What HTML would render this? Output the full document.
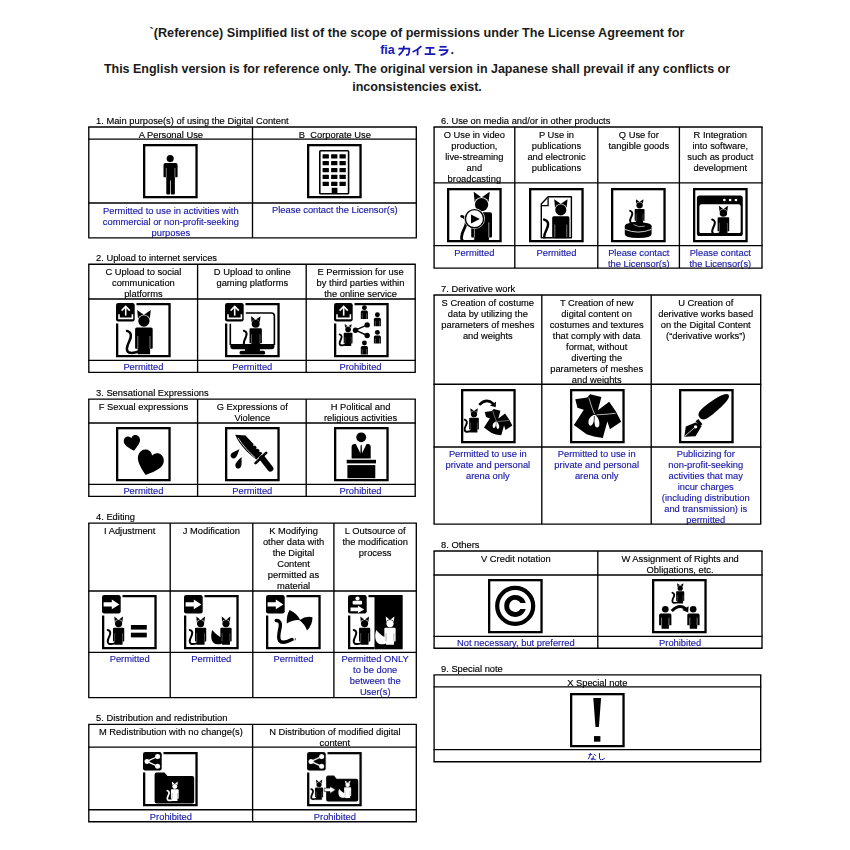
<!DOCTYPE html>
<html><head><meta charset="utf-8"><style>
html,body{margin:0;padding:0;background:#fff;width:850px;height:850px;overflow:hidden;position:relative}
.t{position:absolute;will-change:transform;-webkit-text-stroke:0.15px currentColor;font-family:"Liberation Sans", sans-serif;font-size:9.35px;line-height:11px;white-space:nowrap}
.h{position:absolute;left:0;width:834px;text-align:center;font-family:"Liberation Sans", sans-serif;font-weight:bold;font-size:12.55px;line-height:18px;color:#1a1a1a;white-space:nowrap}
.ic{position:absolute;overflow:visible}
.ov{position:absolute;left:0;top:0}
</style></head><body>
<svg width="0" height="0" style="position:absolute"><defs>
<g id="catB">
 <path d="M-6.7,-10.9 L-0.2,-6.2 L-5.9,-2.2 Z M6.9,-10.9 L0.2,-6.2 L5.9,-2.2 Z" fill="#000"/>
 <circle r="6.3" fill="#fff"/>
 <circle r="5.65" fill="#000"/>
 <path d="M-8.8,8 Q-8.8,6.4 -7.2,6.4 H7.2 Q8.8,6.4 8.8,8 V27 Q8.8,27.8 8,27.8 H6.2 V33.2 H-6.2 V27.8 H-8 Q-8.8,27.8 -8.8,27 Z" fill="#000"/>
 <path d="M-6.1,15 V27.8 M6.1,15 V27.8" stroke="#fff" stroke-width="0.5"/>
</g>
<path id="tail" d="M-16.9,9.9 C-12.5,11 -12,15 -14.5,20 C-17.5,26 -18,30 -15,31.5 C-12,32.5 -8,31.5 -5,30.5" fill="none" stroke-linecap="round"/>
<path id="fox" d="M-21.5,9.9 C-19,13 -15,17 -10,20 L-6.2,22 V31 C-10,33 -16,33 -19.5,30 C-23.5,26 -24,18 -21.5,9.9 Z"/>
<g id="catW">
 <path d="M-6.7,-10.9 L-0.2,-6.2 L-5.9,-2.2 Z M6.9,-10.9 L0.2,-6.2 L5.9,-2.2 Z" fill="#fff"/>
 <circle r="6.3" fill="#000"/>
 <circle r="5.65" fill="#fff"/>
 <path d="M-8.8,8 Q-8.8,6.4 -7.2,6.4 H7.2 Q8.8,6.4 8.8,8 V27 Q8.8,27.8 8,27.8 H6.2 V33.2 H-6.2 V27.8 H-8 Q-8.8,27.8 -8.8,27 Z" fill="#fff"/>
 <path d="M-6.1,15 V27.8 M6.1,15 V27.8" stroke="#000" stroke-width="0.5"/>
</g>
</defs></svg>
<div class="h" style="font-size:12.64px;top:23.90px">`(Reference) Simplified list of the scope of permissions under The License Agreement for</div>
<div class="h" style="left:380.2px;width:auto;text-align:left;top:40.60px;color:#1a1ab8">fia</div><div class="h" style="left:450.6px;width:auto;text-align:left;top:40.60px">.</div>
<div class="h" style="font-size:12.48px;top:59.90px">This English version is for reference only. The original version in Japanese shall prevail if any conflicts or</div>
<div class="h" style="top:77.90px">inconsistencies exist.</div>
<div class="t" style="left:95.80px;width:400.00px;top:115.76px;color:#000;text-align:left">1. Main purpose(s) of using the Digital Content</div><div class="t" style="left:88.80px;width:163.70px;top:129.66px;color:#000;text-align:center">A Personal Use</div><div class="t" style="left:88.80px;width:163.70px;top:205.86px;color:#1a1aa8;text-align:center">Permitted to use in activities with<br>commercial or non-profit-seeking<br>purposes</div><div class="t" style="left:252.50px;width:163.80px;top:129.66px;color:#000;text-align:center">B  Corporate Use</div><div class="t" style="left:252.50px;width:163.80px;top:205.06px;color:#1a1aa8;text-align:center">Please contact the Licensor(s)</div><div class="t" style="left:95.80px;width:400.00px;top:252.96px;color:#000;text-align:left">2. Upload to internet services</div><div class="t" style="left:88.80px;width:108.80px;top:266.86px;color:#000;text-align:center">C Upload to social<br>communication<br>platforms</div><div class="t" style="left:88.80px;width:108.80px;top:362.46px;color:#1a1aa8;text-align:center">Permitted</div><div class="t" style="left:197.60px;width:108.60px;top:266.86px;color:#000;text-align:center">D Upload to online<br>gaming platforms</div><div class="t" style="left:197.60px;width:108.60px;top:362.46px;color:#1a1aa8;text-align:center">Permitted</div><div class="t" style="left:306.20px;width:109.00px;top:266.86px;color:#000;text-align:center">E Permission for use<br>by third parties within<br>the online service</div><div class="t" style="left:306.20px;width:109.00px;top:362.46px;color:#1a1aa8;text-align:center">Prohibited</div><div class="t" style="left:95.80px;width:400.00px;top:387.86px;color:#000;text-align:left">3. Sensational Expressions</div><div class="t" style="left:88.80px;width:108.80px;top:401.76px;color:#000;text-align:center">F Sexual expressions</div><div class="t" style="left:88.80px;width:108.80px;top:486.46px;color:#1a1aa8;text-align:center">Permitted</div><div class="t" style="left:197.60px;width:108.60px;top:401.76px;color:#000;text-align:center">G Expressions of<br>Violence</div><div class="t" style="left:197.60px;width:108.60px;top:486.46px;color:#1a1aa8;text-align:center">Permitted</div><div class="t" style="left:306.20px;width:109.00px;top:401.76px;color:#000;text-align:center">H Political and<br>religious activities</div><div class="t" style="left:306.20px;width:109.00px;top:486.46px;color:#1a1aa8;text-align:center">Prohibited</div><div class="t" style="left:95.80px;width:400.00px;top:511.86px;color:#000;text-align:left">4. Editing</div><div class="t" style="left:88.80px;width:81.40px;top:525.76px;color:#000;text-align:center">I Adjustment</div><div class="t" style="left:88.80px;width:81.40px;top:654.46px;color:#1a1aa8;text-align:center">Permitted</div><div class="t" style="left:170.20px;width:82.60px;top:525.76px;color:#000;text-align:center">J Modification</div><div class="t" style="left:170.20px;width:82.60px;top:654.46px;color:#1a1aa8;text-align:center">Permitted</div><div class="t" style="left:252.80px;width:81.10px;top:525.76px;color:#000;text-align:center">K Modifying<br>other data with<br>the Digital<br>Content<br>permitted as<br>material</div><div class="t" style="left:252.80px;width:81.10px;top:654.46px;color:#1a1aa8;text-align:center">Permitted</div><div class="t" style="left:333.90px;width:82.40px;top:525.76px;color:#000;text-align:center">L Outsource of<br>the modification<br>process</div><div class="t" style="left:333.90px;width:82.40px;top:654.46px;color:#1a1aa8;text-align:center">Permitted ONLY<br>to be done<br>between the<br>User(s)</div><div class="t" style="left:95.80px;width:400.00px;top:713.06px;color:#000;text-align:left">5. Distribution and redistribution</div><div class="t" style="left:88.80px;width:163.80px;top:726.96px;color:#000;text-align:center">M Redistribution with no change(s)</div><div class="t" style="left:88.80px;width:163.80px;top:811.76px;color:#1a1aa8;text-align:center">Prohibited</div><div class="t" style="left:252.60px;width:163.70px;top:726.96px;color:#000;text-align:center">N Distribution of modified digital<br>content</div><div class="t" style="left:252.60px;width:163.70px;top:811.76px;color:#1a1aa8;text-align:center">Prohibited</div><div class="t" style="left:441.00px;width:400.00px;top:115.76px;color:#000;text-align:left">6. Use on media and/or in other products</div><div class="t" style="left:434.10px;width:80.70px;top:129.66px;color:#000;text-align:center">O Use in video<br>production,<br>live-streaming<br>and<br>broadcasting</div><div class="t" style="left:434.10px;width:80.70px;top:247.66px;color:#1a1aa8;text-align:center">Permitted</div><div class="t" style="left:514.80px;width:83.00px;top:129.66px;color:#000;text-align:center">P Use in<br>publications<br>and electronic<br>publications</div><div class="t" style="left:514.80px;width:83.00px;top:247.66px;color:#1a1aa8;text-align:center">Permitted</div><div class="t" style="left:597.80px;width:81.60px;top:129.66px;color:#000;text-align:center">Q Use for<br>tangible goods</div><div class="t" style="left:597.80px;width:81.60px;top:247.66px;color:#1a1aa8;text-align:center">Please contact<br>the Licensor(s)</div><div class="t" style="left:679.40px;width:82.60px;top:129.66px;color:#000;text-align:center">R Integration<br>into software,<br>such as product<br>development</div><div class="t" style="left:679.40px;width:82.60px;top:247.66px;color:#1a1aa8;text-align:center">Please contact<br>the Licensor(s)</div><div class="t" style="left:441.00px;width:400.00px;top:283.76px;color:#000;text-align:left">7. Derivative work</div><div class="t" style="left:434.10px;width:107.70px;top:297.66px;color:#000;text-align:center">S Creation of costume<br>data by utilizing the<br>parameters of meshes<br>and weights</div><div class="t" style="left:434.10px;width:107.70px;top:449.06px;color:#1a1aa8;text-align:center">Permitted to use in<br>private and personal<br>arena only</div><div class="t" style="left:541.80px;width:109.40px;top:297.66px;color:#000;text-align:center">T Creation of new<br>digital content on<br>costumes and textures<br>that comply with data<br>format, without<br>diverting the<br>parameters of meshes<br>and weights</div><div class="t" style="left:541.80px;width:109.40px;top:449.06px;color:#1a1aa8;text-align:center">Permitted to use in<br>private and personal<br>arena only</div><div class="t" style="left:651.20px;width:109.50px;top:297.66px;color:#000;text-align:center">U Creation of<br>derivative works based<br>on the Digital Content<br>(“derivative works”)</div><div class="t" style="left:651.20px;width:109.50px;top:449.06px;color:#1a1aa8;text-align:center">Publicizing for<br>non-profit-seeking<br>activities that may<br>incur charges<br>(including distribution<br>and transmission) is<br>permitted</div><div class="t" style="left:441.00px;width:400.00px;top:539.76px;color:#000;text-align:left">8. Others</div><div class="t" style="left:434.10px;width:163.70px;top:553.66px;color:#000;text-align:center">V Credit notation</div><div class="t" style="left:434.10px;width:163.70px;top:638.46px;color:#1a1aa8;text-align:center">Not necessary, but preferred</div><div class="t" style="left:597.80px;width:164.20px;top:553.66px;color:#000;text-align:center">W Assignment of Rights and<br>Obligations, etc.</div><div class="t" style="left:597.80px;width:164.20px;top:638.46px;color:#1a1aa8;text-align:center">Prohibited</div><div class="t" style="left:441.00px;width:400.00px;top:663.66px;color:#000;text-align:left">9. Special note</div><div class="t" style="left:434.10px;width:326.60px;top:677.56px;color:#000;text-align:center">X Special note</div><svg class="ic" style="left:143.20px;top:144.20px" width="54.7" height="54.3" viewBox="0 0 54.7 54.3"><rect x="1.15" y="1.15" width="52.4" height="52" fill="none" stroke="#000" stroke-width="2.3"/><g fill="#000"><circle cx="27.2" cy="14.6" r="3.55"/><path d="M20.5,21 Q20.5,19.1 22.4,19.1 H32.7 Q34.6,19.1 34.6,21 V32.4 Q34.6,33.3 33.7,33.3 H31.9 V49.6 Q31.9,50.6 30.9,50.6 H28.6 Q27.9,50.6 27.9,49.6 V36.6 H27.2 V49.6 Q27.2,50.6 26.2,50.6 H24.3 Q23.3,50.6 23.3,49.6 V33.3 H21.4 Q20.5,33.3 20.5,32.4 Z"/></g><path d="M23.3,24 V33.3 M31.9,24 V33.3" stroke="#fff" stroke-width="0.5"/></svg><svg class="ic" style="left:307.20px;top:144.20px" width="54.7" height="54.3" viewBox="0 0 54.7 54.3"><rect x="1.15" y="1.15" width="52.4" height="52" fill="none" stroke="#000" stroke-width="2.3"/><rect x="12.8" y="6.8" width="28.8" height="42.9" rx="0.8" fill="none" stroke="#000" stroke-width="1.6"/><g fill="#000"><rect x="15.6" y="10.2" width="6.3" height="4.2" rx="0.5"/><rect x="24.1" y="10.2" width="6.3" height="4.2" rx="0.5"/><rect x="32.5" y="10.2" width="6.3" height="4.2" rx="0.5"/><rect x="15.6" y="17.1" width="6.3" height="4.2" rx="0.5"/><rect x="24.1" y="17.1" width="6.3" height="4.2" rx="0.5"/><rect x="32.5" y="17.1" width="6.3" height="4.2" rx="0.5"/><rect x="15.6" y="24.0" width="6.3" height="4.2" rx="0.5"/><rect x="24.1" y="24.0" width="6.3" height="4.2" rx="0.5"/><rect x="32.5" y="24.0" width="6.3" height="4.2" rx="0.5"/><rect x="15.6" y="30.8" width="6.3" height="4.2" rx="0.5"/><rect x="24.1" y="30.8" width="6.3" height="4.2" rx="0.5"/><rect x="32.5" y="30.8" width="6.3" height="4.2" rx="0.5"/><rect x="15.6" y="37.8" width="6.3" height="4.2" rx="0.5"/><rect x="24.1" y="37.8" width="6.3" height="4.2" rx="0.5"/><rect x="32.5" y="37.8" width="6.3" height="4.2" rx="0.5"/><rect x="24.7" y="43.8" width="5.7" height="6.2"/></g></svg><svg class="ic" style="left:116.20px;top:303.20px" width="54.7" height="54.3" viewBox="0 0 54.7 54.3"><path d="M20.5,1.15 H53.55 V53.15 H1.15 V20.5" fill="none" stroke="#000" stroke-width="2.3"/><rect x="0" y="0" width="18.7" height="18.5" rx="2.2" fill="#000"/><g stroke="#fff" stroke-width="1.6" fill="none"><path d="M9.7,3.6 V12.6"/><path d="M5.6,7.6 L9.7,3.4 L13.8,7.6"/><path d="M3,11.2 V15.4 H16.4 V11.2"/></g><g transform="translate(27.9,18) scale(1.0)"><use href="#tail" stroke="#000" stroke-width="2.50"/><use href="#catB"/></g></svg><svg class="ic" style="left:225.20px;top:303.20px" width="54.7" height="54.3" viewBox="0 0 54.7 54.3"><path d="M20.5,1.15 H53.55 V53.15 H1.15 V20.5" fill="none" stroke="#000" stroke-width="2.3"/><rect x="0" y="0" width="18.7" height="18.5" rx="2.2" fill="#000"/><g stroke="#fff" stroke-width="1.6" fill="none"><path d="M9.7,3.6 V12.6"/><path d="M5.6,7.6 L9.7,3.4 L13.8,7.6"/><path d="M3,11.2 V15.4 H16.4 V11.2"/></g><path d="M20.8,10 H46.4 Q49.4,10 49.4,13 V42 M5.3,20.8 V42" fill="none" stroke="#000" stroke-width="1.6"/><path d="M5.3,41 H49.4 V43.4 Q49.4,46.2 46.6,46.2 H8.1 Q5.3,46.2 5.3,43.4 Z" fill="#000"/><rect x="20.1" y="45" width="14.8" height="3.5" fill="#000"/><rect x="14.5" y="47.8" width="25.7" height="3.7" rx="1.85" fill="#000"/><g transform="translate(30.7,20.8) scale(0.7)"><use href="#tail" stroke="#000" stroke-width="3.01"/><use href="#catB"/></g></svg><svg class="ic" style="left:334.20px;top:303.20px" width="54.7" height="54.3" viewBox="0 0 54.7 54.3"><path d="M20.5,1.15 H53.55 V53.15 H1.15 V20.5" fill="none" stroke="#000" stroke-width="2.3"/><rect x="0" y="0" width="18.7" height="18.5" rx="2.2" fill="#000"/><g stroke="#fff" stroke-width="1.6" fill="none"><path d="M9.7,3.6 V12.6"/><path d="M5.6,7.6 L9.7,3.4 L13.8,7.6"/><path d="M3,11.2 V15.4 H16.4 V11.2"/></g><g fill="#000"><circle cx="30.4" cy="4.7" r="2.45"/><path d="M26.8,8.9 Q26.8,7.4 28.3,7.4 H32.4 Q33.9,7.4 33.9,8.9 V15.9 H32.48 V15.9 H28.22 V15.9 H26.8 Z"/><path d="M28.22,10.375 V15.9 M32.48,10.375 V15.9" stroke="#fff" stroke-width="0.3"/><circle cx="43.4" cy="11.7" r="2.45"/><path d="M39.9,16.3 Q39.9,14.8 41.4,14.8 H45.4 Q46.9,14.8 46.9,16.3 V23.3 H45.5 V23.3 H41.3 V23.3 H39.9 Z"/><path d="M41.3,17.775 V23.3 M45.5,17.775 V23.3" stroke="#fff" stroke-width="0.3"/><circle cx="43.4" cy="29.4" r="2.45"/><path d="M39.9,34.0 Q39.9,32.5 41.4,32.5 H45.4 Q46.9,32.5 46.9,34.0 V40.6 H45.5 V40.6 H41.3 V40.6 H39.9 Z"/><path d="M41.3,35.335 V40.6 M45.5,35.335 V40.6" stroke="#fff" stroke-width="0.3"/><circle cx="30.4" cy="40.0" r="2.45"/><path d="M26.8,44.5 Q26.8,43.0 28.3,43.0 H32.4 Q33.9,43.0 33.9,44.5 V51.5 H32.48 V51.5 H28.22 V51.5 H26.8 Z"/><path d="M28.22,45.975 V51.5 M32.48,45.975 V51.5" stroke="#fff" stroke-width="0.3"/><circle cx="21.5" cy="27.2" r="2.7"/><circle cx="33.2" cy="21.9" r="2.7"/><circle cx="33.2" cy="32.5" r="2.7"/></g><path d="M21.5,27.2 L33.2,21.9 M21.5,27.2 L33.2,32.5" stroke="#000" stroke-width="1.4"/><g transform="translate(14.1,26.5) scale(0.5)"><use href="#tail" stroke="#000" stroke-width="3.70"/><use href="#catB"/></g></svg><svg class="ic" style="left:116.10px;top:427.20px" width="54.7" height="54.3" viewBox="0 0 54.7 54.3"><rect x="1.15" y="1.15" width="52.4" height="52" fill="none" stroke="#000" stroke-width="2.3"/><g fill="#000"><path transform="translate(16.6,16.8) rotate(-12) scale(1.95)" d="M0,3.6 C-1.5,2.4 -4.2,0.3 -4.2,-1.6 C-4.2,-3.2 -3.1,-4.2 -1.9,-4.2 C-1,-4.2 -0.3,-3.6 0,-2.9 C0.3,-3.6 1,-4.2 1.9,-4.2 C3.1,-4.2 4.2,-3.2 4.2,-1.6 C4.2,0.3 1.5,2.4 0,3.6 Z"/><path transform="translate(33.2,37.3) rotate(18) scale(3.15)" d="M0,3.6 C-1.5,2.4 -4.2,0.3 -4.2,-1.6 C-4.2,-3.2 -3.1,-4.2 -1.9,-4.2 C-1,-4.2 -0.3,-3.6 0,-2.9 C0.3,-3.6 1,-4.2 1.9,-4.2 C3.1,-4.2 4.2,-3.2 4.2,-1.6 C4.2,0.3 1.5,2.4 0,3.6 Z"/></g></svg><svg class="ic" style="left:225.10px;top:427.20px" width="54.7" height="54.3" viewBox="0 0 54.7 54.3"><rect x="1.15" y="1.15" width="52.4" height="52" fill="none" stroke="#000" stroke-width="2.3"/><g fill="#000"><path d="M10.2,7.8 L20.5,8.5 L28.5,17 L28.3,18.9 L30.1,18.6 L31.6,20.3 L31.3,22.1 L33.1,21.8 L34.6,23.4 L34.3,25.1 L36.1,24.9 L37.4,26.2 L31.5,32.6 C24,27 15,19 10.2,7.8 Z"/><path d="M14.5,21.9 C12.5,23.2 10,24.3 7.2,25.8 C4.5,27.5 5.5,31.8 8.8,31.5 C11,31.2 12,29 12.8,26.8 Z"/><path d="M16.6,30 C14.5,32 12.2,34 10.8,36.5 C9.3,39.5 11.8,42.5 14.5,41.3 C16.5,40.3 16.5,38 16.6,35.5 Z"/></g><path d="M30.6,36.2 L41.1,25.9" stroke="#000" stroke-width="2.6" stroke-linecap="round"/><path d="M37.2,31.2 L45.4,41.6" stroke="#000" stroke-width="6" stroke-linecap="round"/><path d="M13,10.8 C18,19 24,25 30.3,30.8" stroke="#fff" stroke-width="0.8" fill="none"/></svg><svg class="ic" style="left:334.10px;top:427.20px" width="54.7" height="54.3" viewBox="0 0 54.7 54.3"><rect x="1.15" y="1.15" width="52.4" height="52" fill="none" stroke="#000" stroke-width="2.3"/><g fill="#000"><circle cx="27.2" cy="10.3" r="4.9"/><path d="M17.6,31.4 V19.8 Q17.6,16.9 20.6,16.9 H21.8 L26.4,26.2 L26.6,18.8 L27.2,17.6 L27.8,18.8 L28,26.2 L32.6,16.9 H33.7 Q36.7,16.9 36.7,19.8 V31.4 Z"/><rect x="12.7" y="32.8" width="29.3" height="3.6"/><rect x="13.4" y="38.1" width="27.9" height="13.1"/></g></svg><svg class="ic" style="left:102.20px;top:595.20px" width="54.7" height="54.3" viewBox="0 0 54.7 54.3"><path d="M20.5,1.15 H53.55 V53.15 H1.15 V20.5" fill="none" stroke="#000" stroke-width="2.3"/><rect x="0" y="0" width="18.7" height="18.5" rx="2.2" fill="#000"/><path d="M1.6,7.3 H9.8 V4.5 L17.4,9.4 L9.8,14.3 V11.6 H1.6 Z" fill="#fff"/><g transform="translate(16.6,28.6) scale(0.64)"><use href="#tail" stroke="#000" stroke-width="3.17"/><use href="#catB"/></g><g fill="#000"><rect x="28.9" y="30" width="15.9" height="4.6"/><rect x="28.9" y="37.7" width="15.9" height="4.7"/></g></svg><svg class="ic" style="left:184.20px;top:595.20px" width="54.7" height="54.3" viewBox="0 0 54.7 54.3"><path d="M20.5,1.15 H53.55 V53.15 H1.15 V20.5" fill="none" stroke="#000" stroke-width="2.3"/><rect x="0" y="0" width="18.7" height="18.5" rx="2.2" fill="#000"/><path d="M1.6,7.3 H9.8 V4.5 L17.4,9.4 L9.8,14.3 V11.6 H1.6 Z" fill="#fff"/><g transform="translate(16.6,28.6) scale(0.64)"><use href="#tail" stroke="#000" stroke-width="3.17"/><use href="#catB"/></g><g transform="translate(42,28.6) scale(0.64)"><use href="#fox" fill="#000"/><use href="#catB"/></g></svg><svg class="ic" style="left:266.20px;top:595.20px" width="54.7" height="54.3" viewBox="0 0 54.7 54.3"><path d="M20.5,1.15 H53.55 V53.15 H1.15 V20.5" fill="none" stroke="#000" stroke-width="2.3"/><rect x="0" y="0" width="18.7" height="18.5" rx="2.2" fill="#000"/><path d="M1.6,7.3 H9.8 V4.5 L17.4,9.4 L9.8,14.3 V11.6 H1.6 Z" fill="#fff"/><path d="M20.8,28.6 Q20.4,20 23.6,15.0 Q31.5,18.5 34.2,25.2 A20,20 0 0,0 20.8,28.6 Z M33.4,25.2 Q40,20.6 46.5,22.2 Q46.5,30 41,35.6 A20,20 0 0,0 33.4,25.2 Z" fill="#000"/><path d="M10.2,25.5 C13.5,25.5 15,27.5 14.2,32 C13.5,36 11.5,42 13.5,45.5 C15.5,48.5 21,47 25.8,44.6" fill="none" stroke="#000" stroke-width="3.4" stroke-linecap="round"/><path d="M27.7,43.5 V45.8 M29.4,43 V45.3" stroke="#000" stroke-width="0.6"/></svg><svg class="ic" style="left:348.20px;top:595.20px" width="54.7" height="54.3" viewBox="0 0 54.7 54.3"><path d="M20.5,1.15 H27 M26.5,53.15 H1.15 V20.5" fill="none" stroke="#000" stroke-width="2.3"/><rect x="26.5" y="0" width="28.2" height="54.3" fill="#000"/><rect x="0" y="0" width="18.7" height="18.5" rx="2.2" fill="#000"/><g fill="#fff"><circle cx="9.5" cy="3.5" r="2.1"/><rect x="4.6" y="5.8" width="9.5" height="3.8" rx="1"/><path d="M2.5,12.6 H10 V10.8 L16.2,14.4 L10,18 V16.2 H2.5 Z"/></g><g transform="translate(16.6,28.6) scale(0.64)"><use href="#tail" stroke="#000" stroke-width="3.17"/><use href="#catB"/></g><g transform="translate(42,28.6) scale(0.64)"><use href="#fox" fill="#fff"/><use href="#catW"/></g></svg><svg class="ic" style="left:143.20px;top:752.20px" width="54.7" height="54.3" viewBox="0 0 54.7 54.3"><path d="M20.5,1.15 H53.55 V53.15 H1.15 V20.5" fill="none" stroke="#000" stroke-width="2.3"/><rect x="0" y="0" width="18.7" height="18.5" rx="2.2" fill="#000"/><g fill="#fff"><circle cx="4" cy="9.4" r="2.5"/><circle cx="14.6" cy="4.5" r="2.5"/><circle cx="14.6" cy="14.3" r="2.5"/></g><path d="M4,9.4 L14.6,4.5 M4,9.4 L14.6,14.3" stroke="#fff" stroke-width="1.3"/><path d="M11.6,22.5 Q11.6,20.5 13.6,20.5 H21.5 L24.5,24 H49.2 Q51.2,24 51.2,26 V49.5 Q51.2,51.5 49.2,51.5 H13.6 Q11.6,51.5 11.6,49.5 Z" fill="#000"/><g transform="translate(31.8,34.4) scale(0.44)"><use href="#tail" stroke="#fff" stroke-width="4.03"/><use href="#catW"/></g></svg><svg class="ic" style="left:307.20px;top:752.20px" width="54.7" height="54.3" viewBox="0 0 54.7 54.3"><path d="M20.5,1.15 H53.55 V53.15 H1.15 V20.5" fill="none" stroke="#000" stroke-width="2.3"/><rect x="0" y="0" width="18.7" height="18.5" rx="2.2" fill="#000"/><g fill="#fff"><circle cx="4" cy="9.4" r="2.5"/><circle cx="14.6" cy="4.5" r="2.5"/><circle cx="14.6" cy="14.3" r="2.5"/></g><path d="M4,9.4 L14.6,4.5 M4,9.4 L14.6,14.3" stroke="#fff" stroke-width="1.3"/><path d="M19.1,25.6 Q19.1,23.6 21.1,23.6 H27 L29.5,26.8 H49.2 Q51.2,26.8 51.2,28.8 V47.4 Q51.2,49.4 49.2,49.4 H21.1 Q19.1,49.4 19.1,47.4 Z" fill="#000"/><g transform="translate(12,32.5) scale(0.46)"><use href="#tail" stroke="#000" stroke-width="3.91"/><use href="#catB"/></g><g transform="translate(40.6,32.8) scale(0.4)"><use href="#fox" fill="#fff"/><use href="#catW"/></g><path d="M17.3,36.1 H23 V34.2 L28.6,37.8 L23,41.4 V39.5 H17.3 Z" fill="#fff" stroke="#000" stroke-width="0.6"/></svg><svg class="ic" style="left:447.10px;top:188.20px" width="54.7" height="54.3" viewBox="0 0 54.7 54.3"><rect x="1.15" y="1.15" width="52.4" height="52" fill="none" stroke="#000" stroke-width="2.3"/><clipPath id="clO"><rect x="2.3" y="2.3" width="50.1" height="49.7"/></clipPath><g clip-path="url(#clO)"><g transform="translate(34.6,16.6) scale(1.18)"><use href="#tail" stroke="#000" stroke-width="2.32"/><use href="#catB"/></g></g><circle cx="27.5" cy="30.7" r="10.4" fill="#fff"/><circle cx="27.5" cy="30.7" r="9.1" fill="none" stroke="#000" stroke-width="1.4"/><path d="M24,26.4 L24,35.6 L32.8,31 Z" fill="#000"/></svg><svg class="ic" style="left:529.10px;top:188.20px" width="54.7" height="54.3" viewBox="0 0 54.7 54.3"><rect x="1.15" y="1.15" width="52.4" height="52" fill="none" stroke="#000" stroke-width="2.3"/><clipPath id="clP"><rect x="12" y="8" width="30.5" height="42.3"/></clipPath><g clip-path="url(#clP)"><g transform="translate(31.8,21.9) scale(0.98)"><use href="#tail" stroke="#000" stroke-width="2.52"/><use href="#catB"/></g></g><path d="M19.1,8.8 H42.4 V49.8 H12.3 V15.9 Z" fill="none" stroke="#000" stroke-width="1.4" stroke-linejoin="round"/><path d="M19.1,9.5 V17.6 H12.8" fill="none" stroke="#000" stroke-width="1.3"/></svg><svg class="ic" style="left:611.40px;top:188.20px" width="54.7" height="54.3" viewBox="0 0 54.7 54.3"><rect x="1.15" y="1.15" width="52.4" height="52" fill="none" stroke="#000" stroke-width="2.3"/><g transform="translate(28.6,17.3) scale(0.56)"><use href="#tail" stroke="#000" stroke-width="3.44"/><use href="#catB"/></g><path d="M13.8,38.1 V46 Q13.8,50 27.2,50 Q40.6,50 40.6,46 V38.1 Z" fill="#000"/><ellipse cx="27.2" cy="38.1" rx="13.4" ry="3.9" fill="#000"/><path d="M13.9,41.4 Q27.2,46.8 40.5,41.4" stroke="#fff" stroke-width="0.8" fill="none"/><path d="M22.6,36.6 Q27.5,39.8 33.8,38.2" stroke="#fff" stroke-width="0.6" fill="none"/></svg><svg class="ic" style="left:693.40px;top:188.20px" width="54.7" height="54.3" viewBox="0 0 54.7 54.3"><rect x="1.15" y="1.15" width="52.4" height="52" fill="none" stroke="#000" stroke-width="2.3"/><rect x="3.9" y="7.4" width="45.9" height="40.6" rx="2.6" fill="#000"/><rect x="6.4" y="16.2" width="41.3" height="29.3" rx="2.2" fill="#fff"/><g fill="#fff"><circle cx="31.4" cy="12" r="1.35"/><circle cx="37.1" cy="12" r="1.35"/><circle cx="43" cy="12" r="1.35"/></g><clipPath id="clR"><rect x="3" y="16" width="47" height="31"/></clipPath><g clip-path="url(#clR)"><g transform="translate(30.4,25) scale(0.66)"><use href="#tail" stroke="#000" stroke-width="3.12"/><use href="#catB"/></g></g><path d="M6.4,45.5 H47.7" stroke="#000" stroke-width="1"/></svg><svg class="ic" style="left:461.20px;top:389.20px" width="54.7" height="54.3" viewBox="0 0 54.7 54.3"><rect x="1.15" y="1.15" width="52.4" height="52" fill="none" stroke="#000" stroke-width="2.3"/><g transform="translate(13,25.2) scale(0.55)"><use href="#tail" stroke="#000" stroke-width="3.48"/><use href="#catB"/></g><path d="M18.2,15.8 Q25.5,8.5 32.5,14.8" fill="none" stroke="#000" stroke-width="2.4"/><path d="M28.9,16.5 L35,12.8 L34.7,18.3 Z" fill="#000"/><g transform="translate(20.6,16.9) scale(0.6)"><path d="M5.3,10.2 L17.3,8.5 L20.1,5.3 L31.4,8.1 L27.9,21.2 L39.2,12.7 L45.9,22.6 L51.2,32.8 L39.9,40.2 L37.4,32.5 L32.8,49.1 L24,47.5 L16.6,45.2 L3.9,36 L13.8,20.8 L7.4,18.7 Z" fill="#000"/><path d="M18.8,8.6 C20.5,14 22,19.5 24.5,25" stroke="#fff" stroke-width="0.7" fill="none"/><path d="M26.5,25.8 C33,25.6 39,25.1 45.6,24.3" stroke="#fff" stroke-width="0.7" fill="none"/><path d="M23.5,26 C20,27.5 17.8,31 18.6,34.8 C19.2,37.5 21.5,37.2 22.6,35 L24,32.5 L25,36.5 C25.8,39.2 28.6,39 29.3,36.2 C30,32.5 28.2,28.5 25.2,25.8 Z" fill="#fff"/><path d="M24.4,27 L23.9,36.5" stroke="#000" stroke-width="0.7"/></g></svg><svg class="ic" style="left:570.20px;top:389.20px" width="54.7" height="54.3" viewBox="0 0 54.7 54.3"><rect x="1.15" y="1.15" width="52.4" height="52" fill="none" stroke="#000" stroke-width="2.3"/><path d="M5.3,10.2 L17.3,8.5 L20.1,5.3 L31.4,8.1 L27.9,21.2 L39.2,12.7 L45.9,22.6 L51.2,32.8 L39.9,40.2 L37.4,32.5 L32.8,49.1 L24,47.5 L16.6,45.2 L3.9,36 L13.8,20.8 L7.4,18.7 Z" fill="#000"/><path d="M18.8,8.6 C20.5,14 22,19.5 24.5,25" stroke="#fff" stroke-width="0.7" fill="none"/><path d="M26.5,25.8 C33,25.6 39,25.1 45.6,24.3" stroke="#fff" stroke-width="0.7" fill="none"/><path d="M23.5,26 C20,27.5 17.8,31 18.6,34.8 C19.2,37.5 21.5,37.2 22.6,35 L24,32.5 L25,36.5 C25.8,39.2 28.6,39 29.3,36.2 C30,32.5 28.2,28.5 25.2,25.8 Z" fill="#fff"/><path d="M24.4,27 L23.9,36.5" stroke="#000" stroke-width="0.7"/></svg><svg class="ic" style="left:679.20px;top:389.20px" width="54.7" height="54.3" viewBox="0 0 54.7 54.3"><rect x="1.15" y="1.15" width="52.4" height="52" fill="none" stroke="#000" stroke-width="2.3"/><g fill="#000"><path transform="translate(34.9,17.3) rotate(-38)" d="M-18.2,0 C-18.2,-4.5 -14,-5.6 -6,-5.6 C6,-5.6 18.6,-4.2 18.6,0 C18.6,4.2 6,5.6 -6,5.6 C-14,5.6 -18.2,4.5 -18.2,0 Z"/><rect x="-1.8" y="-3.3" width="3.6" height="6.6" transform="translate(20,33.8) rotate(-38)"/><path d="M6.8,37.4 L16.6,33.4 L22.6,37 L16.6,47.3 L5.3,47.7 Z"/></g><path d="M5.8,47.2 L16.4,37.9" stroke="#fff" stroke-width="0.8"/><circle cx="16.6" cy="37.8" r="1.6" fill="#fff"/></svg><svg class="ic" style="left:488.10px;top:579.20px" width="54.7" height="54.3" viewBox="0 0 54.7 54.3"><rect x="1.15" y="1.15" width="52.4" height="52" fill="none" stroke="#000" stroke-width="2.3"/><circle cx="27.2" cy="26.9" r="18" fill="none" stroke="#000" stroke-width="4.2"/><path d="M37.8,23.9 A11,11 0 1,0 37.8,29.9 L32.5,29.9 A6.1,6.1 0 1,1 32.5,23.9 Z" fill="#000"/></svg><svg class="ic" style="left:652.10px;top:579.20px" width="54.7" height="54.3" viewBox="0 0 54.7 54.3"><rect x="1.15" y="1.15" width="52.4" height="52" fill="none" stroke="#000" stroke-width="2.3"/><g transform="translate(28.2,9.2) scale(0.46)"><use href="#tail" stroke="#000" stroke-width="3.91"/><use href="#catB"/></g><g fill="#000"><circle cx="13.3" cy="30.3" r="3.3"/><path d="M7.1,36.1 Q7.1,34.6 8.6,34.6 H17.9 Q19.4,34.6 19.4,36.1 V46.3 H16.939999999999998 V49.8 H9.559999999999999 V46.3 H7.1 Z"/><path d="M9.559999999999999,38.695 V46.3 M16.939999999999998,38.695 V46.3" stroke="#fff" stroke-width="0.5"/><circle cx="41.2" cy="30.3" r="3.3"/><path d="M35.3,36.1 Q35.3,34.6 36.8,34.6 H46.1 Q47.6,34.6 47.6,36.1 V46.3 H45.14 V49.8 H37.76 V46.3 H35.3 Z"/><path d="M37.76,38.695 V46.3 M45.14,38.695 V46.3" stroke="#fff" stroke-width="0.5"/></g><path d="M19.8,32 Q27,24.5 33.6,29.6" fill="none" stroke="#000" stroke-width="3"/><path d="M30.2,31 L36.6,27.2 L36.2,33.6 Z" fill="#000"/></svg><svg class="ic" style="left:570.40px;top:692.50px" width="54.7" height="54.3" viewBox="0 0 54.7 54.3"><rect x="1.15" y="1.15" width="52.4" height="52" fill="none" stroke="#000" stroke-width="2.3"/><g fill="#000"><path d="M23.3,4.9 H31.1 L28.9,33.9 H25.5 Z"/><rect x="24" y="43.1" width="6.4" height="5.6"/></g></svg><svg class="ov" width="850" height="850" viewBox="0 0 850 850"><g stroke="#000" stroke-width="1.35"><line x1="88.20" y1="127.00" x2="416.90" y2="127.00"/><line x1="88.20" y1="139.10" x2="416.90" y2="139.10"/><line x1="88.20" y1="203.00" x2="416.90" y2="203.00"/><line x1="88.20" y1="237.80" x2="416.90" y2="237.80"/><line x1="88.80" y1="127.00" x2="88.80" y2="237.80"/><line x1="252.50" y1="127.00" x2="252.50" y2="237.80"/><line x1="416.30" y1="127.00" x2="416.30" y2="237.80"/><line x1="88.20" y1="264.20" x2="415.80" y2="264.20"/><line x1="88.20" y1="299.00" x2="415.80" y2="299.00"/><line x1="88.20" y1="360.40" x2="415.80" y2="360.40"/><line x1="88.20" y1="372.30" x2="415.80" y2="372.30"/><line x1="88.80" y1="264.20" x2="88.80" y2="372.30"/><line x1="197.60" y1="264.20" x2="197.60" y2="372.30"/><line x1="306.20" y1="264.20" x2="306.20" y2="372.30"/><line x1="415.20" y1="264.20" x2="415.20" y2="372.30"/><line x1="88.20" y1="399.10" x2="415.80" y2="399.10"/><line x1="88.20" y1="423.00" x2="415.80" y2="423.00"/><line x1="88.20" y1="484.40" x2="415.80" y2="484.40"/><line x1="88.20" y1="496.40" x2="415.80" y2="496.40"/><line x1="88.80" y1="399.10" x2="88.80" y2="496.40"/><line x1="197.60" y1="399.10" x2="197.60" y2="496.40"/><line x1="306.20" y1="399.10" x2="306.20" y2="496.40"/><line x1="415.20" y1="399.10" x2="415.20" y2="496.40"/><line x1="88.20" y1="523.10" x2="416.90" y2="523.10"/><line x1="88.20" y1="591.00" x2="416.90" y2="591.00"/><line x1="88.20" y1="652.40" x2="416.90" y2="652.40"/><line x1="88.20" y1="697.60" x2="416.90" y2="697.60"/><line x1="88.80" y1="523.10" x2="88.80" y2="697.60"/><line x1="170.20" y1="523.10" x2="170.20" y2="697.60"/><line x1="252.80" y1="523.10" x2="252.80" y2="697.60"/><line x1="333.90" y1="523.10" x2="333.90" y2="697.60"/><line x1="416.30" y1="523.10" x2="416.30" y2="697.60"/><line x1="88.20" y1="724.30" x2="416.90" y2="724.30"/><line x1="88.20" y1="747.10" x2="416.90" y2="747.10"/><line x1="88.20" y1="809.70" x2="416.90" y2="809.70"/><line x1="88.20" y1="821.70" x2="416.90" y2="821.70"/><line x1="88.80" y1="724.30" x2="88.80" y2="821.70"/><line x1="252.60" y1="724.30" x2="252.60" y2="821.70"/><line x1="416.30" y1="724.30" x2="416.30" y2="821.70"/><line x1="433.50" y1="127.00" x2="762.60" y2="127.00"/><line x1="433.50" y1="182.90" x2="762.60" y2="182.90"/><line x1="433.50" y1="245.60" x2="762.60" y2="245.60"/><line x1="433.50" y1="268.10" x2="762.60" y2="268.10"/><line x1="434.10" y1="127.00" x2="434.10" y2="268.10"/><line x1="514.80" y1="127.00" x2="514.80" y2="268.10"/><line x1="597.80" y1="127.00" x2="597.80" y2="268.10"/><line x1="679.40" y1="127.00" x2="679.40" y2="268.10"/><line x1="762.00" y1="127.00" x2="762.00" y2="268.10"/><line x1="433.50" y1="295.00" x2="761.30" y2="295.00"/><line x1="433.50" y1="384.20" x2="761.30" y2="384.20"/><line x1="433.50" y1="447.00" x2="761.30" y2="447.00"/><line x1="433.50" y1="524.10" x2="761.30" y2="524.10"/><line x1="434.10" y1="295.00" x2="434.10" y2="524.10"/><line x1="541.80" y1="295.00" x2="541.80" y2="524.10"/><line x1="651.20" y1="295.00" x2="651.20" y2="524.10"/><line x1="760.70" y1="295.00" x2="760.70" y2="524.10"/><line x1="433.50" y1="551.00" x2="762.60" y2="551.00"/><line x1="433.50" y1="575.00" x2="762.60" y2="575.00"/><line x1="433.50" y1="636.40" x2="762.60" y2="636.40"/><line x1="433.50" y1="648.20" x2="762.60" y2="648.20"/><line x1="434.10" y1="551.00" x2="434.10" y2="648.20"/><line x1="597.80" y1="551.00" x2="597.80" y2="648.20"/><line x1="762.00" y1="551.00" x2="762.00" y2="648.20"/><line x1="433.50" y1="674.90" x2="761.30" y2="674.90"/><line x1="433.50" y1="686.90" x2="761.30" y2="686.90"/><line x1="433.50" y1="749.60" x2="761.30" y2="749.60"/><line x1="433.50" y1="761.70" x2="761.30" y2="761.70"/><line x1="434.10" y1="674.90" x2="434.10" y2="761.70"/><line x1="760.70" y1="674.90" x2="760.70" y2="761.70"/></g><g fill="none" stroke="#1a1ab8" stroke-width="1.75" stroke-linecap="butt"><path d="M398.4,48.6 H409.4 Q409.4,53 408.3,54.6 Q407.6,55.2 406,54.8"/><path d="M404,45.8 Q404,51.5 398.6,55.2"/><path d="M421.4,46.2 Q418,49.8 412.6,52"/><path d="M417.6,49.3 V55.2"/><path d="M425.6,47.9 H434.4 M430,47.9 V53.9 M424.6,54 H435.4"/><path d="M439.6,46.8 H446.6"/><path d="M438.8,50 H447.6 Q447,54 440.5,55.2"/></g><g fill="none" stroke="#2424a4" stroke-width="1"><path d="M588.6,754.6 H592.2"/><path d="M590.6,752.9 Q590,756.5 588.2,759.2"/><path d="M594,754.2 Q595.5,755 596,756"/><path d="M593.2,755.8 V759 Q593.2,760 591.8,759.8 Q590.6,759.5 591.2,758.8 Q592.5,758 595.8,759.8"/><path d="M599.5,753.1 V758.2 Q599.5,759.7 601.5,759.7 Q603.8,759.7 604.9,757.8"/></g></svg>
</body></html>
